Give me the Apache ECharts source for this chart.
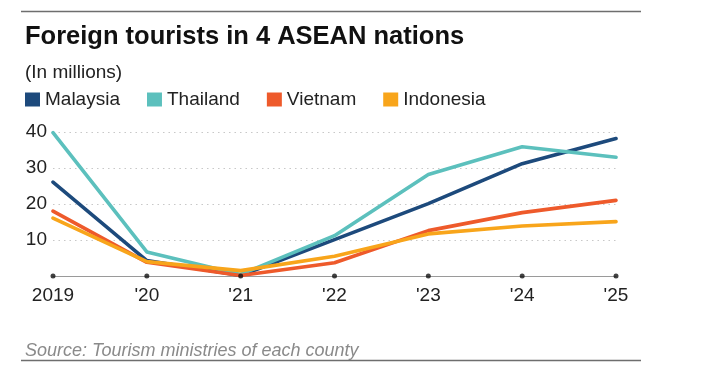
<!DOCTYPE html>
<html>
<head>
<meta charset="utf-8">
<style>
html,body{margin:0;padding:0;background:#fff;}
#chart{width:702px;height:380px;}
</style>
<script src="https://cdn.jsdelivr.net/npm/echarts@6/dist/echarts.min.js"></script>
</head>
<body>
<div id="chart"></div>
<script>
var categories = ['2019', "'20", "'21", "'22", "'23", "'24", "'25"];
var malaysia  = [26.1, 4.3, 0.13, 10.1, 20.1, 31.2, 38.2];
var thailand  = [39.8, 6.7, 0.43, 11.2, 28.2, 35.9, 33.0];
var vietnam   = [18.0, 3.8, 0.16, 3.7, 12.6, 17.6, 21.0];
var indonesia = [16.1, 4.0, 1.5, 5.5, 11.7, 13.9, 15.1];
var seriesNames = ['Malaysia', 'Thailand', 'Vietnam', 'Indonesia'];
var yTicks = [0, 10, 20, 30, 40];

var FONT = '"Liberation Sans", Arial, Helvetica, sans-serif';
var colors = ['#1d4a7c', '#5cc0bd', '#ee5a2b', '#f8a51b'];
var values = [malaysia, thailand, vietnam, indonesia];

var chart = echarts.init(document.getElementById('chart'), null, {renderer: 'canvas'});

var series = seriesNames.map(function (n, i) {
  return {
    name: n, type: 'line', data: values[i],
    symbol: 'none', smooth: false,
    lineStyle: {width: 3.6, color: colors[i], cap: 'round', join: 'round'},
    itemStyle: {color: colors[i]},
    z: 3 + i
  };
});
series.push({
  name: 'ticks', type: 'scatter', data: categories.map(function () { return 0; }),
  symbol: 'circle', symbolSize: 5, itemStyle: {color: '#111'},
  silent: true, z: 10
});

chart.setOption({
  animation: false,
  textStyle: {fontFamily: FONT},
  title: [
    {text: 'Foreign tourists in 4 ASEAN nations', left: 20, top: 19,
     textStyle: {fontFamily: FONT, fontSize: 25.5, fontWeight: 'bold', color: '#111'}},
    {text: '(In millions)', left: 20, top: 58,
     textStyle: {fontFamily: FONT, fontSize: 19, fontWeight: 'normal', color: '#222'}},
    {text: 'Source: Tourism ministries of each county', left: 20, top: 337,
     textStyle: {fontFamily: FONT, fontSize: 18, fontWeight: 'normal', fontStyle: 'italic', color: '#8a8a8a'}}
  ],
  legend: {
    data: seriesNames, left: 20, top: 85, icon: 'rect',
    itemWidth: 15, itemHeight: 14, itemGap: 27,
    textStyle: {fontFamily: FONT, fontSize: 19, color: '#222'}
  },
  graphic: [
    {type: 'line', shape: {x1: 21, y1: 11.5, x2: 641, y2: 11.5}, style: {stroke: '#6e6e6e', lineWidth: 1.5}},
    {type: 'line', shape: {x1: 21, y1: 360.5, x2: 641, y2: 360.5}, style: {stroke: '#6e6e6e', lineWidth: 1.5}}
  ],
  grid: {left: 53, right: 86, top: 132, bottom: 104, containLabel: false},
  xAxis: {
    type: 'category', data: categories, boundaryGap: false,
    axisLine: {show: true, lineStyle: {color: '#9a9a9a', width: 1}},
    axisTick: {show: false},
    axisLabel: {fontFamily: FONT, fontSize: 19, color: '#222', margin: 10},
    splitLine: {show: false}
  },
  yAxis: {
    type: 'value', min: yTicks[0], max: yTicks[yTicks.length - 1], interval: 10,
    axisLine: {show: false}, axisTick: {show: false},
    axisLabel: {fontFamily: FONT, fontSize: 19, color: '#222', margin: 6,
      formatter: function (v) { return v === 0 ? '' : String(v); }},
    splitLine: {show: true, lineStyle: {color: '#c8c8c8', type: [1.5, 4], width: 1.2}}
  },
  series: series
});
</script>
</body>
</html>
